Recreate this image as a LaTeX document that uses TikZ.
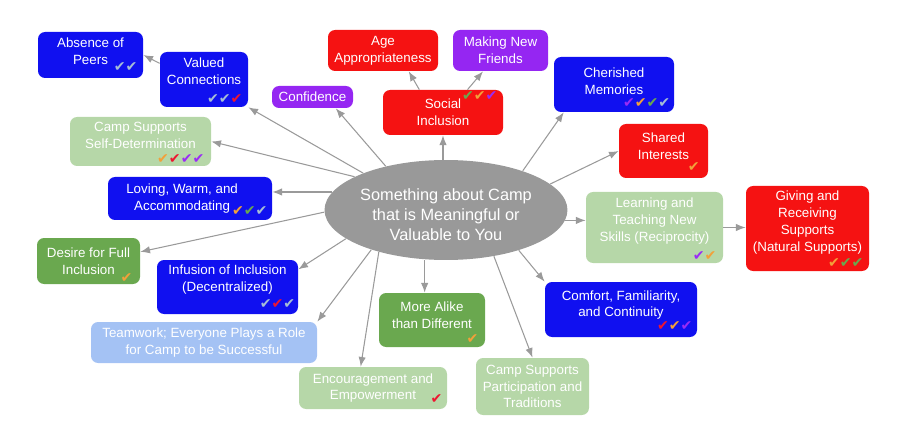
\documentclass[tikz,border=0pt]{standalone}
\usepackage{fontspec}
\setmainfont{Liberation Sans}
\newfontfamily\checkfont{DejaVu Sans}
\usetikzlibrary{positioning,shapes.geometric,arrows.meta}

\definecolor{bluebox}{HTML}{1010F0}
\definecolor{redbox}{HTML}{F51212}
\definecolor{purplebox}{HTML}{9526F2}
\definecolor{greenbox}{HTML}{6AA84F}
\definecolor{palegreen}{HTML}{B6D7A8}
\definecolor{paleblue}{HTML}{A4C2F4}
\definecolor{coregray}{HTML}{999999}
\definecolor{linegray}{HTML}{9A9A9A}
\definecolor{ckgray}{HTML}{A6BDD6}
\definecolor{ckorange}{HTML}{F2A03A}
\definecolor{ckgreen}{HTML}{6AA84F}
\definecolor{ckpurple}{HTML}{9A2BF5}
\definecolor{ckred}{HTML}{EE1530}

\newcommand{\chk}[1]{\textcolor{#1}{✔}}
\newcommand{\lift}[1]{\rule[-#1]{0pt}{#1}}
\newcommand{\drop}[1]{\rule{0pt}{#1}}

\begin{document}
\begin{tikzpicture}[x=0.02cm, y=-0.02cm,
        box/.style={rectangle, rounded corners=4pt, fill=#1, text=white, align=center, inner sep=1pt, font=\fontsize{7.6}{9.6}\selectfont},
        dims/.style 2 args={minimum width=#1*0.02cm, minimum height=#2*0.02cm},
        checkrow/.style={inner sep=0pt, font=\checkfont\fontsize{8}{8}\selectfont},
        arr/.style={draw=linegray, line width=0.6pt, -{Latex[length=5.5pt,width=4.2pt]}}]
        \useasboundingbox (0,0) rectangle (900,439);

        \node[ellipse, fill=coregray, text=white, align=center, minimum width=4.86cm, minimum height=2cm, inner xsep=-4pt, inner ysep=0pt, font=\fontsize{9.3}{11.3}\selectfont] (core) at (446,210) {\drop{12.4pt}Something about Camp\\that is Meaningful or\\Valuable to You};

        \node[box=bluebox, dims={105}{46}] (peers) at (90.5,55) {Absence of\\Peers\lift{4pt}};
        \node[box=bluebox, dims={88}{55}] (valued) at (204,79.5) {Valued\\Connections\lift{9pt}};
        \node[box=purplebox, dims={81}{22}] (confidence) at (312.5,97) {Confidence};
        \node[box=redbox, dims={110}{41}] (age) at (383,50.5) {Age\\Appropriateness};
        \node[box=purplebox, dims={95}{41}] (friends) at (500.5,50.5) {Making New\\Friends};
        \node[box=redbox, dims={120}{45}] (social) at (443,112.5) {Social\\Inclusion};
        \node[box=bluebox, dims={120}{55}] (memories) at (614,84.5) {Cherished\\Memories\lift{3.4pt}};
        \node[box=redbox, dims={89}{54}] (shared) at (663.5,151) {Shared\\Interests\lift{5.1pt}};
        \node[box=palegreen, dims={137}{71}] (learning) at (654.5,227.5) {Learning and\\Teaching New\\Skills (Reciprocity)\lift{9pt}};
        \node[box=redbox, dims={123}{85}] (giving) at (807.5,228.5) {Giving and\\Receiving\\Supports\\(Natural Supports)\lift{8.4pt}};
        \node[box=bluebox, dims={152}{55}] (comfort) at (621,309.5) {Comfort, Familiarity,\\and Continuity\lift{6.7pt}};
        \node[box=palegreen, dims={113}{57}] (traditions) at (532.5,386.5) {Camp Supports\\Participation and\\Traditions};
        \node[box=greenbox, dims={106}{54}] (alike) at (432,320) {More Alike\\than Different\lift{5.7pt}};
        \node[box=palegreen, dims={148}{42}] (empower) at (373,388) {Encouragement and\\Empowerment};
        \node[box=paleblue, dims={226}{41}] (teamwork) at (204,342.5) {Teamwork; Everyone Plays a Role\\for Camp to be Successful};
        \node[box=bluebox, dims={141}{54}] (infusion) at (227.5,287) {Infusion of Inclusion\\(Decentralized)\lift{9.6pt}};
        \node[box=greenbox, dims={103}{46}] (desire) at (88.5,261) {Desire for Full\\Inclusion};
        \node[box=bluebox, dims={164}{43}] (loving) at (190,198.5) {Loving, Warm, and\hspace*{9pt}\\Accommodating\hspace*{9pt}};
        \node[box=palegreen, dims={141}{49}] (selfdet) at (140.5,141.5) {Camp Supports\\Self-Determination\lift{6.8pt}};

        % check marks
        \node[checkrow, above left=3.6pt and 3.2pt of peers.south east] (peersck) {\chk{ckgray}\chk{ckgray}};
        \node[checkrow, above left=1.8pt and 3.2pt of valued.south east] (valuedck) {\chk{ckgray}\chk{ckgray}\chk{ckred}};
        \node[checkrow, below left=1.2pt and 3.2pt of social.north east] (socialck) {\chk{ckgreen}\chk{ckorange}\chk{ckpurple}};
        \node[checkrow, above left=2.6pt and 2.2pt of memories.south east] (memoriesck) {\chk{ckpurple}\chk{ckorange}\chk{ckgreen}\chk{ckgray}};
        \node[checkrow, above left=3.6pt and 4.8pt of shared.south east] (sharedck) {\chk{ckorange}};
        \node[checkrow, above left=1.2pt and 3.8pt of learning.south east] (learningck) {\chk{ckpurple}\chk{ckorange}};
        \node[checkrow, above left=2.2pt and 3.2pt of giving.south east] (givingck) {\chk{ckorange}\chk{ckgreen}\chk{ckgreen}};
        \node[checkrow, above left=3.6pt and 2.6pt of comfort.south east] (comfortck) {\chk{ckred}\chk{ckorange}\chk{ckpurple}};
        \node[checkrow, above left=2.2pt and 3.8pt of alike.south east] (alikeck) {\chk{ckorange}};
        \node[checkrow, above left=3.2pt and 2.6pt of empower.south east] (empowerck) {\chk{ckred}};
        \node[checkrow, above left=3.2pt and 1.6pt of infusion.south east] (infusionck) {\chk{ckgray}\chk{ckred}\chk{ckgray}};
        \node[checkrow, above left=0.8pt and 4.3pt of desire.south east] (desireck) {\chk{ckorange}};
        \node[checkrow, above left=2.6pt and 2.6pt of loving.south east] (lovingck) {\chk{ckorange}\chk{ckgreen}\chk{ckgray}};
        \node[checkrow, above left=1.6pt and 3.8pt of selfdet.south east] (selfdetck) {\chk{ckorange}\chk{ckred}\chk{ckpurple}\chk{ckpurple}};

        % connectors
        \draw[arr] (core.156) -- (valued.south east);
        \draw[arr] (core.160) -- (selfdet.east);
        \draw[arr] (core.144) -- (confidence.-26);
        \draw[arr] (core.171) -- (loving.east |- core.171);
        \draw[arr] (core.181) -- (desire.10);
        \draw[arr] (core.196) -- (infusion.14);
        \draw[arr] (core.208) -- (teamwork.north east);
        \draw[arr] (core.212) -- (empower.120);
        \draw[arr] (core.south -| alike.105) -- (alike.105);
        \draw[arr] (core.316) -- (traditions.north);
        \draw[arr] (core.331) -- (comfort.north west);
        \draw[arr] (core.355) -- (learning.west |- core.355);
        \draw[arr] (core.14) -- (shared.west);
        \draw[arr] (core.27) -- (memories.209);
        \draw[arr] (social.south |- core.north) -- (social.south);
        \draw[arr] (valued.160) -- (peers.east);
        \draw[arr] (social.136) -- (age.-39);
        \draw[arr] (social.43) -- (friends.230);
        \draw[arr] (learning.east) -- (giving.west |- learning.east);
\end{tikzpicture}
\end{document}
